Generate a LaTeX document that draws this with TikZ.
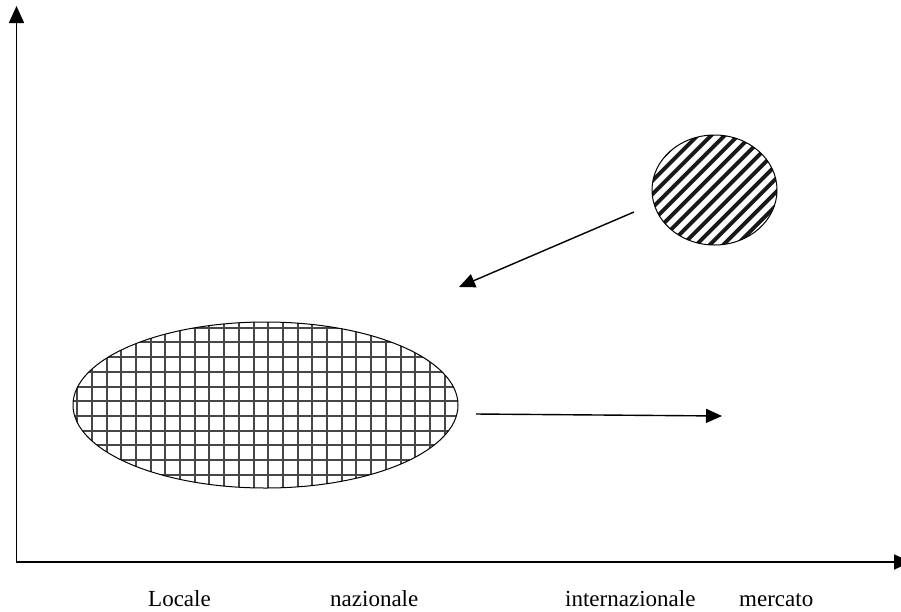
\documentclass[tikz,border=0pt]{standalone}
\usepackage{fontspec}
\setmainfont{Liberation Serif}
\usetikzlibrary{arrows.meta,shapes.geometric}
\begin{document}
\begin{tikzpicture}[x=1pt,y=-1pt,
  axis/.style={line width=1.6pt, line join=miter,
    {Triangle[length=17pt,width=15pt]}-{Triangle[length=17pt,width=15pt]}},
  flow/.style={line width=1.4pt, -{Triangle[length=16pt,width=14pt]}},
  region/.style={ellipse, draw, line width=1pt, inner sep=0pt},
  gridline/.style={line width=2pt, black!72},
  hatchline/.style={line width=3.9pt, black!90},
  lbl/.style={anchor=base west, inner sep=0pt, font=\fontsize{23}{27}\selectfont}]
\useasboundingbox (0,0) rectangle (901,611);

% axes
\coordinate (ytop) at (16.5,6);
\coordinate (O) at (16.5,562);
\coordinate (xend) at (911,562);
\draw[axis] (ytop) -- (O) -- (xend);

% cross-hatched region (path picture coordinates are relative to the node centre)
\node[region, minimum width=385pt, minimum height=166pt,
  path picture={
    \foreach \i in {-14,...,14}
      \draw[gridline] ({-12+14.7*\i},-100) -- ++(0,200);
    \foreach \j in {-7,...,7}
      \draw[gridline] (-200,{-18.5+14.7*\j}) -- ++(400,0);
  }] (local) at (265.5,405) {};

% striped region
\node[region, minimum width=125pt, minimum height=110pt,
  path picture={
    \foreach \n in {-11,...,11}
      \draw[hatchline] ({-44.5+13.5*\n-80},80) -- ({-44.5+13.5*\n+80},-80);
  }] (global) at (714.5,190) {};

% movements
\coordinate (d1) at (634,212);
\coordinate (d2) at (459,287);
\draw[flow] (d1) -- (d2);
\coordinate (h1) at (476,414);
\coordinate (h2) at (722,416);
\draw[flow] (h1) -- (h2);

% axis labels
\node[lbl] (loc) at (148,606) {Locale};
\node[lbl] (naz) at (330,606) {nazionale};
\node[lbl] (int) at (565,606) {internazionale};
\node[lbl] (mer) at (739,606) {mercato};
\end{tikzpicture}
\end{document}
